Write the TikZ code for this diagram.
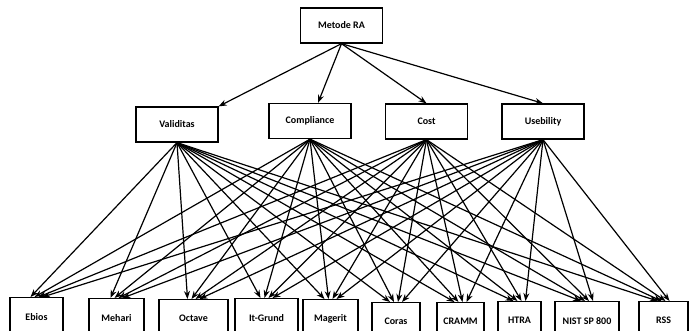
\documentclass[tikz,border=0pt]{standalone}
\usepackage{fontspec}
\setmainfont{Carlito}
\usepackage{tikz}
\usepackage{xcolor}
\usetikzlibrary{arrows.meta}

\begin{document}
\begin{tikzpicture}[
    x=1pt, y=-1pt,
    box/.style={draw, line width=1.3pt, minimum width=82pt, minimum height=35pt, align=center, font=\fontsize{10}{12}\selectfont\bfseries},
    leaf/.style={box, anchor=north, minimum height=38pt, minimum width=#1},
    arr/.style={->, line width=1.2pt, >={Stealth[length=8pt,width=6pt]}}
]
\path[use as bounding box, clip] (0,0) rectangle (692,331);

\node[box] (metode) at (341.5,25.5) {Metode RA};

\node[box] (valid) at (177,124.5) {Validitas};
\node[box] (compl) at (310,121) {Compliance};
\node[box] (cost) at (426.5,121.5) {Cost};
\node[box] (useb) at (543,121.5) {Usebility};

\node[leaf=53pt] (ebios) at (36.5,297) {Ebios};
\node[leaf=55pt] (mehari) at (116.5,298) {Mehari};
\node[leaf=69pt] (octave) at (193.5,299) {Octave};
\node[leaf=63pt] (itgrund) at (266.5,298) {It-Grund};
\node[leaf=55pt] (magerit) at (330.5,299) {Magerit};
\node[leaf=48pt] (coras) at (396,302) {Coras};
\node[leaf=47pt] (cramm) at (460.5,302) {CRAMM};
\node[leaf=43pt] (htra) at (519.5,301) {HTRA};
\node[leaf=64pt] (nist) at (587,301) {NIST SP 800};
\node[leaf=49pt] (rss) at (663.5,301) {RSS};

\draw[arr] (metode.south) -- (valid.north east);
\draw[arr] (metode.south) -- ([xshift=8pt]compl.north);
\draw[arr] (metode.south) -- (cost.north);
\draw[arr] (metode.south) -- (useb.north);

% every criterion to every method
\foreach \m [count=\i] in {valid,compl,cost,useb}
  \foreach \b in {ebios,mehari,octave,itgrund,magerit,coras,cramm,htra,nist,rss}
    \draw[arr] (\m.south) -- ([xshift={(\i-2.5)*4pt}]\b.north);
\end{tikzpicture}
\end{document}
